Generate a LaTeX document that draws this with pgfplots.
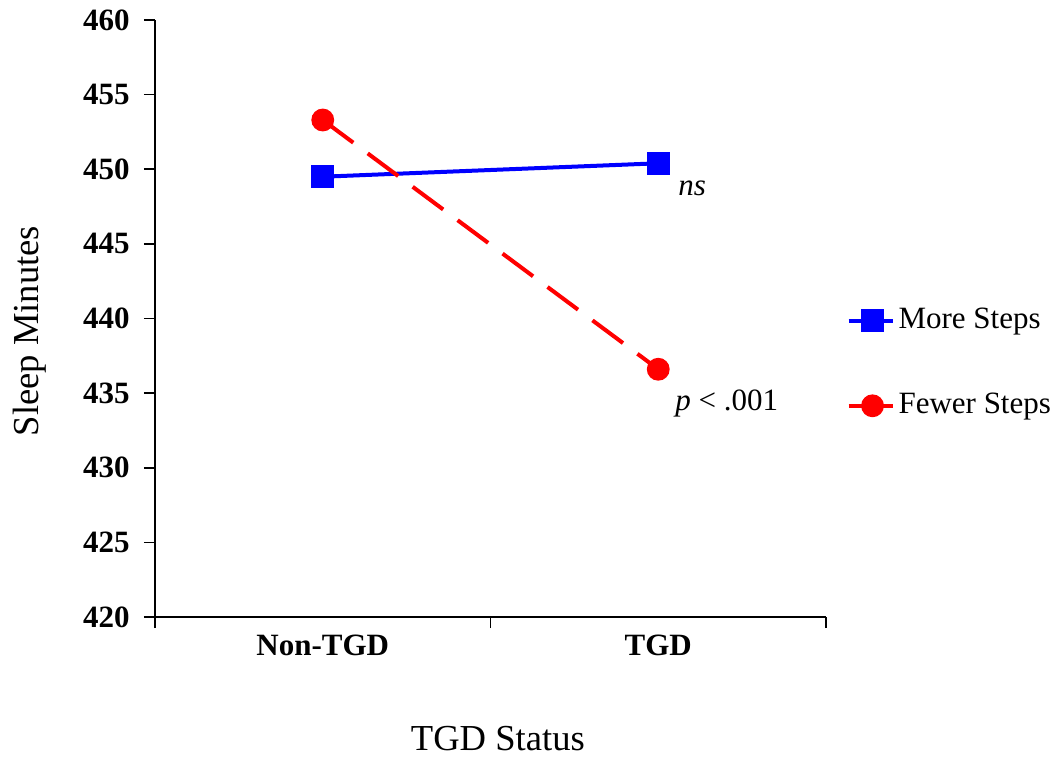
\documentclass[border=0pt]{standalone}
\usepackage{fontspec}
\setmainfont{Liberation Serif}
\usepackage{pgfplots}
\pgfplotsset{compat=1.18}
\begin{document}
\fontsize{15}{18}\selectfont
\begin{tikzpicture}
\begin{axis}[
  scale only axis,
  width=335.5pt, height=298.5pt,
  xmin=0, xmax=2, ymin=420, ymax=460,
  axis x line*=bottom, axis y line*=left,
  axis line style={line width=0.8pt},
  tick align=outside,
  major tick length=5.5pt,
  tick style={black, line width=0.8pt},
  xtick={0,1,2}, xticklabels={},
  extra x ticks={0.5,1.5},
  extra x tick labels={Non-TGD,TGD},
  extra x tick style={major tick length=0pt, xticklabel style={yshift=-4pt}},
  ytick={420,425,...,460},
  /pgf/number format/assume math mode=true,
  ticklabel style={font=\fontsize{15.5}{18}\selectfont\bfseries},
  yticklabel style={xshift=-2pt},
  xlabel={TGD Status},
  ylabel={Sleep Minutes},
  label style={font=\fontsize{18.3}{22}\selectfont},
  xlabel style={at={(axis description cs:0.511,-0.203)}, anchor=center},
  ylabel style={at={(axis description cs:-0.186,0.479)}, anchor=center},
  legend style={at={(axis description cs:1.03,0.425)}, anchor=west, draw=none, fill=none,
    font=\fontsize{15.5}{18}\selectfont, row sep=26pt, inner sep=0pt,
    /tikz/every even column/.append style={column sep=2pt}},
  legend cell align=left,
  legend image code/.code={\draw[#1, solid] (0pt,0pt) -- (22pt,0pt); \draw[#1, solid] plot coordinates {(12pt,0pt)};},
  clip=false,
]
\addplot[blue, line width=2pt, mark=square*, mark size=4.7pt, mark options={solid}] coordinates {(0.5,449.5) (1.5,450.4)};
\addlegendentry{More Steps}
\addplot[red, line width=2pt, dash pattern=on 19pt off 9pt, mark=*, mark size=4.7pt, mark options={solid}] coordinates {(0.5,453.3) (1.5,436.6)};
\addlegendentry{Fewer Steps}
\node[anchor=west, inner sep=0pt, font=\fontsize{15.5}{18}\selectfont\itshape] at (axis cs:1.559,448.7) {ns};
\node[anchor=west, inner sep=0pt, font=\fontsize{15.5}{18}\selectfont] at (axis cs:1.55,434.3) {\textit{p} < .001};
\end{axis}
\pgfresetboundingbox
\path (-77.5pt,-70pt) rectangle (448.5pt,308.5pt);
\end{tikzpicture}
\end{document}
